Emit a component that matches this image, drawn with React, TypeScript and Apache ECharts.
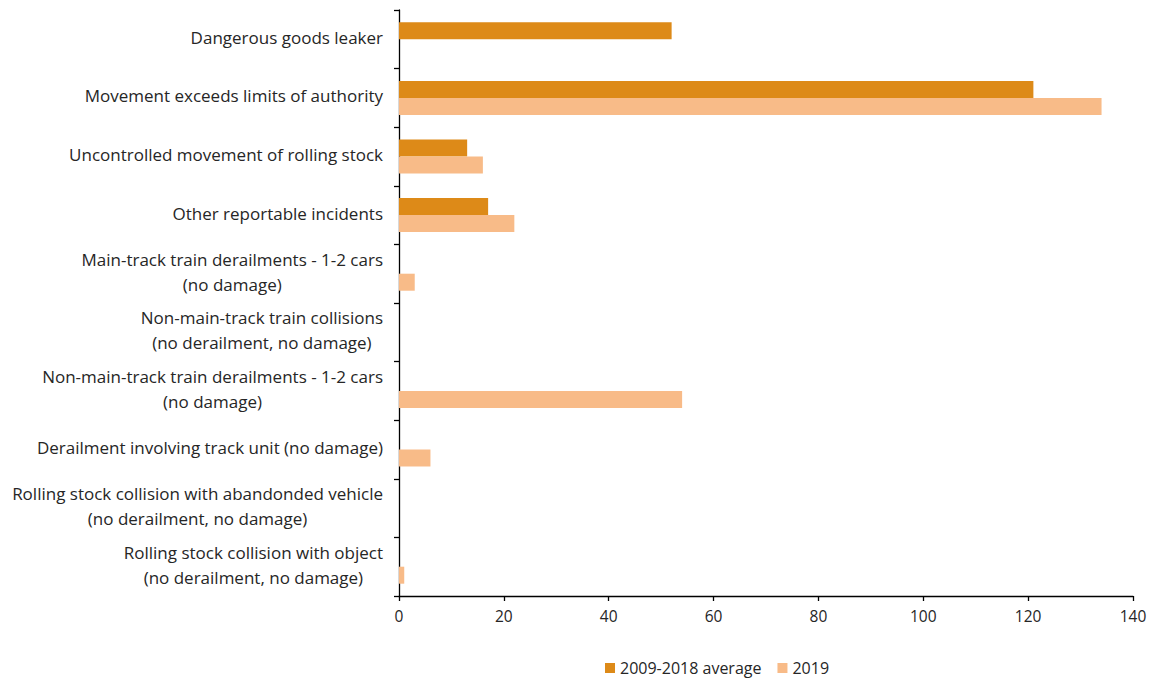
import React, { useEffect, useRef } from "react";
import * as echarts from "echarts";

const categories = [
  "Dangerous goods leaker",
  "Movement exceeds limits of authority",
  "Uncontrolled movement of rolling stock",
  "Other reportable incidents",
  "Main-track train derailments - 1-2 cars\n(no damage)",
  "Non-main-track train collisions\n(no derailment, no damage)",
  "Non-main-track train derailments - 1-2 cars\n(no damage)",
  "Derailment involving track unit (no damage)",
  "Rolling stock collision with abandonded vehicle\n(no derailment, no damage)",
  "Rolling stock collision with object\n(no derailment, no damage)",
];

const avg20092018 = [52, 121, 13, 17, 0, 0, 0, 0, 0, 0];
const y2019 = [0, 134, 16, 22, 3, 0, 54, 6, 0, 1];

const seriesNames = ["2009-2018 average", "2019"];
const colors = ["#DD8A18", "#F8BB88"];

const FONT = "'Open Sans', 'Noto Sans', sans-serif";
const TEXT = "#262626";

export default function App() {
  const ref = useRef<HTMLDivElement>(null);
  useEffect(() => {
    if (!ref.current) return;
    const chart = echarts.init(ref.current, undefined, { renderer: "svg" });
    chart.setOption({
      animation: false,
      grid: { left: 399, right: 23, top: 10, bottom: 85, containLabel: false },
      legend: {
        top: 655,
        left: 600,
        icon: "rect",
        itemWidth: 10,
        itemHeight: 10,
        itemGap: 16,
        textStyle: { fontFamily: FONT, fontSize: 16, color: TEXT },
        data: seriesNames,
      },
      xAxis: {
        type: "value",
        min: 0,
        max: 140,
        interval: 20,
        axisLine: { show: true, lineStyle: { color: "#000", width: 1.3 } },
        axisTick: { show: true, length: 5, lineStyle: { color: "#000", width: 1.3 } },
        splitLine: { show: false },
        axisLabel: { fontFamily: FONT, fontSize: 15.5, color: TEXT, margin: 12 },
      },
      yAxis: {
        type: "category",
        inverse: true,
        data: categories,
        axisLine: { show: true, lineStyle: { color: "#000", width: 1.3 } },
        axisTick: { show: true, length: 5, lineStyle: { color: "#000", width: 1.3 } },
        axisLabel: {
          margin: 16,
          fontFamily: FONT,
          fontSize: 17,
          color: TEXT,
          lineHeight: 25,
          padding: [0, 0, 4, 0],
          formatter: (v: string) =>
            v
              .split("\n")
              .map((l) => `{c|${l}}`)
              .join("\n"),
          rich: {
            c: {
              align: "center",
              fontFamily: FONT,
              fontSize: 17,
              color: TEXT,
              lineHeight: 25,
            },
          },
        },
      },
      series: [
        {
          name: seriesNames[0],
          type: "bar",
          data: avg20092018,
          barWidth: 17,
          barGap: "0%",
          itemStyle: { color: colors[0] },
        },
        {
          name: seriesNames[1],
          type: "bar",
          data: y2019,
          barWidth: 17,
          barGap: "0%",
          itemStyle: { color: colors[1] },
        },
      ],
    });
    return () => chart.dispose();
  }, []);
  return (
    <div
      ref={ref}
      style={{ position: "absolute", left: 0, top: 0, width: 1156, height: 681 }}
    />
  );
}
